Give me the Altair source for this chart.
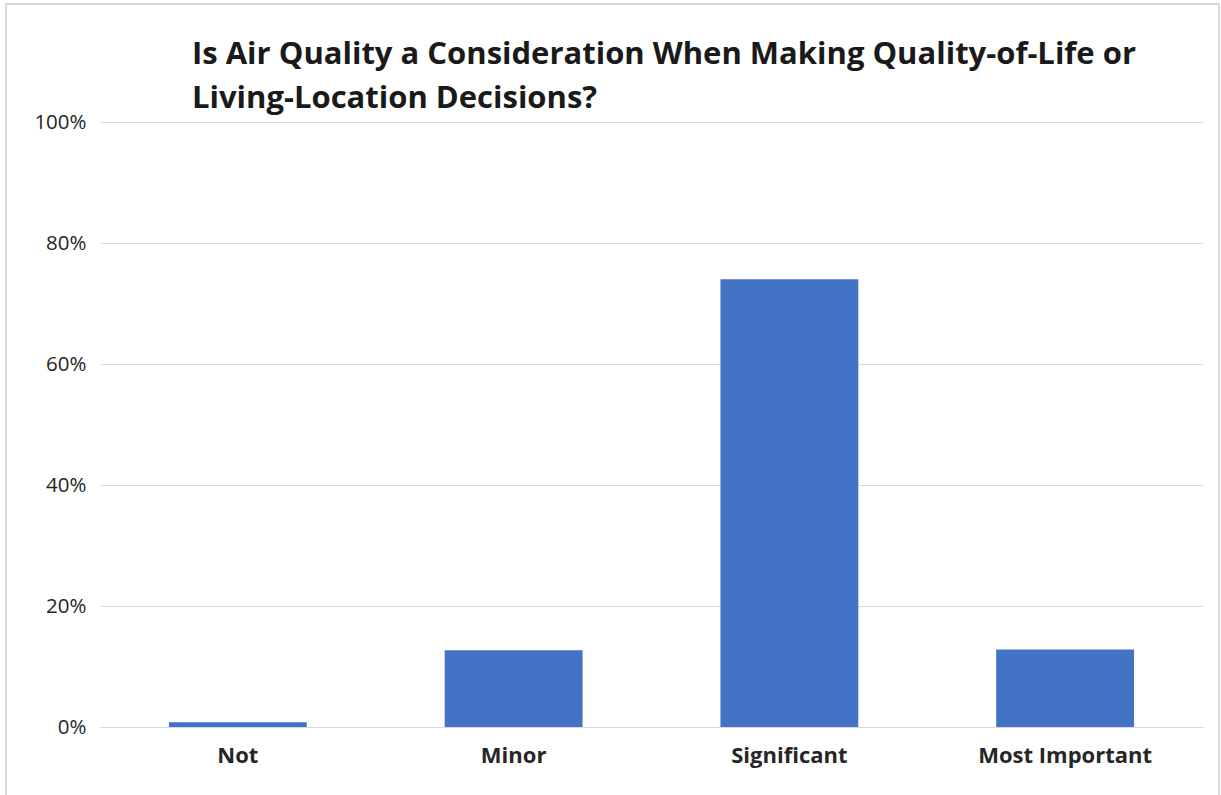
import altair as alt
import pandas as pd

# Survey responses: importance of air quality in living-location decisions
categories = ["Not", "Minor", "Significant", "Most Important"]
shares = [0.008, 0.127, 0.74, 0.128]

title_lines = [
    "Is Air Quality a Consideration When Making Quality-of-Life or",
    "Living-Location Decisions?",
]

df = pd.DataFrame({"category": categories, "share": shares})

FONT = "Open Sans"
GRID = "#d9d9d9"

bars = alt.Chart(df).mark_bar(color="#4472C4").encode(
    x=alt.X(
        "category:N",
        sort=categories,
        title=None,
        scale=alt.Scale(paddingInner=0.5, paddingOuter=0.25),
        axis=alt.Axis(
            labelAngle=0,
            labelFont=FONT,
            labelFontSize=22,
            labelFontWeight="bold",
            labelColor="#262626",
            labelPadding=18,
            domain=False,
            ticks=False,
            grid=False,
        ),
    ),
    y=alt.Y(
        "share:Q",
        title=None,
        scale=alt.Scale(domain=[0, 1], nice=False),
        axis=alt.Axis(
            values=[0, 0.2, 0.4, 0.6, 0.8, 1.0],
            format=".0%",
            labelFont=FONT,
            labelFontSize=20.5,
            labelColor="#262626",
            labelPadding=14,
            domain=False,
            ticks=False,
            grid=True,
            gridColor=GRID,
            gridWidth=1.2,
        ),
    ),
)

# Thin frame around the whole chart
frame = alt.Chart(df).mark_rect(
    fill=None, stroke=GRID, strokeWidth=2
).encode(
    x=alt.value(-94),
    x2=alt.value(1119),
    y=alt.value(-118),
    y2=alt.value(700),
)

chart = (
    alt.layer(frame, bars)
    .properties(
        width=1103,
        height=605,
        background="white",
        padding={"left": 100, "top": 122, "right": 18, "bottom": 68},
        autosize=alt.AutoSizeParams(type="none"),
        title=alt.Title(
            title_lines,
            anchor="start",
            frame="group",
            dx=92,
            dy=112,
            offset=0,
            font=FONT,
            fontSize=31,
            fontWeight="bold",
            color="#1a1a1a",
            lineHeight=44,
        ),
    )
    .configure_view(stroke="transparent", strokeWidth=0)
)

chart.save("out.html", embed_options={"renderer": "svg", "actions": False})
